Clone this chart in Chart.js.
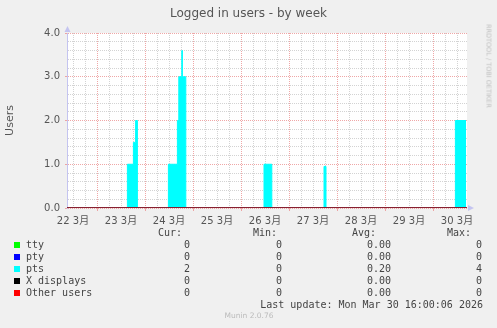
<!DOCTYPE html>
<html>
<head>
<meta charset="utf-8">
<script src="https://cdn.jsdelivr.net/npm/chart.js@4/dist/chart.umd.min.js"></script>
<style>
  body { margin: 0; background: #f0f0f0; }
  #wrap { position: relative; width: 497px; height: 328px; overflow: hidden;
          font-family: "DejaVu Sans", sans-serif; color: #555; }
  #chart { position: absolute; left: 0; top: 0; }
  .txt { position: absolute; white-space: nowrap; line-height: 12px; }
  .mono { font-family: "DejaVu Sans Mono", monospace; font-size: 10px; color: #444; }
  .swatch { position: absolute; width: 6px; height: 6px; }
</style>
</head>
<body>
<div id="wrap">
  <canvas id="chart" width="497" height="240"></canvas>
  <div class="txt" style="left:0;top:6px;width:497px;text-align:center;font-size:12px;line-height:14px;">Logged in users - by week</div>
  <div class="txt" style="left:488px;top:66px;font-size:6.5px;line-height:7px;color:#c0c0c0;transform:translate(-50%,-50%) rotate(90deg);">RRDTOOL / TOBI OETIKER</div>
  <div id="legend"></div>
  <div class="txt" style="left:249px;top:311px;font-size:7.5px;line-height:10px;color:#bbb;transform:translateX(-50%);">Munin 2.0.76</div>
</div>
<script>
// time axis is in hours since 22 Mar 00:00
const startHour = 9;
const endHour = 209;
const dayLabels = ['22 3月', '23 3月', '24 3月', '25 3月', '26 3月', '27 3月', '28 3月', '29 3月', '30 3月'];

// pts: step changes (value holds until the next hour)
const ptsHours  = [9, 39.2, 42.2, 43.3, 44.2, 59.7, 64.2, 64.9, 66.4, 66.7, 68.4, 107.5, 111.4, 137.5, 138.5, 203.2, 208.5];
const ptsValues = [0, 1,    1.5,  2,    0,    1,    2,    3,    3.6,  3,    0,    1,     0,     0.95,  0,     2,     2];

// the other series stay at zero over the whole week
const zeroHours  = [9, 209];
const ttyValues   = [0, 0];
const ptyValues   = [0, 0];
const xdispValues = [0, 0];
const otherValues = [0, 0];

const seriesNames  = ['tty', 'pty', 'pts', 'X displays', 'Other users'];
const seriesColors = ['#00ff00', '#0000ff', '#00ffff', '#000000', '#ff0000'];
const curValues = ['0', '0', '2', '0', '0'];
const minValues = ['0', '0', '0', '0', '0'];
const avgValues = ['0.00', '0.00', '0.20', '0.00', '0.00'];
const maxValues = ['0', '0', '4', '0', '0'];
const lastUpdate = 'Last update: Mon Mar 30 16:00:06 2026';

const MAJOR = 'rgba(235,145,145,0.8)';
const MINOR = 'rgba(200,200,200,0.8)';
const AXIS = '#c4c4f0';
const FONT = '"DejaVu Sans", "Noto Sans CJK JP", sans-serif';

function toPoints(hours, values) {
  return hours.map((h, i) => ({ x: h, y: values[i] }));
}
const isWhole = v => Math.abs(v - Math.round(v)) < 1e-6;

const xTicks = [];
for (let h = 12; h < endHour; h += 6) xTicks.push(h);
const yTicks = [];
for (let i = 0; i <= 20; i++) yTicks.push(i / 5);

const plotBg = {
  id: 'plotBg',
  beforeDraw(chart) {
    const { ctx, chartArea: a } = chart;
    ctx.save();
    ctx.fillStyle = '#ffffff';
    ctx.fillRect(a.left, a.top, a.right - a.left, a.bottom - a.top);
    ctx.restore();
  },
  afterDraw(chart) {
    const { ctx, chartArea: a } = chart;
    ctx.save();
    ctx.fillStyle = AXIS;
    ctx.beginPath();
    ctx.moveTo(a.left + 0.5, a.top - 7);
    ctx.lineTo(a.left - 2.5, a.top - 1);
    ctx.lineTo(a.left + 3.5, a.top - 1);
    ctx.closePath();
    ctx.fill();
    ctx.beginPath();
    ctx.moveTo(a.right + 7, a.bottom);
    ctx.lineTo(a.right + 1, a.bottom - 3);
    ctx.lineTo(a.right + 1, a.bottom + 3);
    ctx.closePath();
    ctx.fill();
    ctx.restore();
  }
};

const line = (label, data, color, order) => ({
  label, data, borderColor: color, backgroundColor: color,
  borderWidth: 1, pointRadius: 0, stepped: true, fill: false, order
});

const ptsSet = line('pts', toPoints(ptsHours, ptsValues), '#00ffff', 5);
ptsSet.fill = 'origin';

new Chart(document.getElementById('chart'), {
  type: 'line',
  data: {
    datasets: [
      line('tty', toPoints(zeroHours, ttyValues), '#00ff00', 4),
      line('pty', toPoints(zeroHours, ptyValues), '#0000ff', 3),
      ptsSet,
      line('X displays', toPoints(zeroHours, xdispValues), '#000000', 1),
      line('Other users', toPoints(zeroHours, otherValues), '#ff0000', 0)
    ]
  },
  options: {
    responsive: false,
    animation: false,
    devicePixelRatio: 1,
    layout: { padding: { top: 33, right: 30, left: 0, bottom: 0 } },
    plugins: { legend: { display: false }, tooltip: { enabled: false } },
    scales: {
      x: {
        type: 'linear', min: startHour, max: endHour,
        afterBuildTicks: s => { s.ticks = xTicks.map(v => ({ value: v })); },
        afterFit: s => { s.height = 32; },
        ticks: {
          autoSkip: false, maxRotation: 0, padding: 4, color: '#555',
          font: { family: FONT, size: 10 },
          callback: v => (v % 24 === 12 ? dayLabels[Math.floor(v / 24)] : '')
        },
        grid: {
          color: c => (c.tick && c.tick.value % 24 === 0 ? MAJOR : MINOR),
          tickLength: 3,
          tickColor: c => (c.tick && c.tick.value % 24 === 0 ? MAJOR : 'rgba(0,0,0,0)')
        },
        border: { display: false, dash: [1, 1] }
      },
      y: {
        min: 0, max: 4,
        afterBuildTicks: s => { s.ticks = yTicks.map(v => ({ value: v })); },
        afterFit: s => { s.width = 67; },
        ticks: {
          autoSkip: false, padding: 5, color: '#555',
          font: { family: FONT, size: 10 },
          callback: v => (isWhole(v) ? v.toFixed(1) : '')
        },
        grid: {
          color: c => (c.tick && isWhole(c.tick.value) ? MAJOR : MINOR),
          tickLength: 2,
          tickColor: c => (c.tick && isWhole(c.tick.value) ? MAJOR : 'rgba(0,0,0,0)')
        },
        border: { display: true, color: AXIS, width: 1, dash: [1, 1] },
        title: {
          display: true, text: 'Users', color: '#555',
          font: { family: FONT, size: 11 }, padding: { top: 4, bottom: 0 }
        }
      }
    }
  },
  plugins: [plotBg]
});

// munin-style legend below the graph
const legend = document.getElementById('legend');
function place(text, x, yc, alignRight) {
  const d = document.createElement('div');
  d.className = 'txt mono';
  d.textContent = text;
  d.style.top = (yc - 6) + 'px';
  if (alignRight) d.style.right = (497 - x) + 'px';
  else d.style.left = x + 'px';
  legend.appendChild(d);
}
const headers = ['Cur:', 'Min:', 'Avg:', 'Max:'];
const headerLeft = [158, 253, 352, 447];
const colRight = [190, 282, 391, 482];
headers.forEach((h, i) => place(h, headerLeft[i], 232.5, false));
seriesNames.forEach((name, r) => {
  const yc = 244.5 + r * 12;
  const sw = document.createElement('div');
  sw.className = 'swatch';
  sw.style.left = '14px';
  sw.style.top = (yc - 3) + 'px';
  sw.style.background = seriesColors[r];
  legend.appendChild(sw);
  place(name, 26, yc, false);
  [curValues, minValues, avgValues, maxValues].forEach((col, c) => place(col[r], colRight[c], yc, true));
});
place(lastUpdate, 483, 304.5, true);
</script>
</body>
</html>
